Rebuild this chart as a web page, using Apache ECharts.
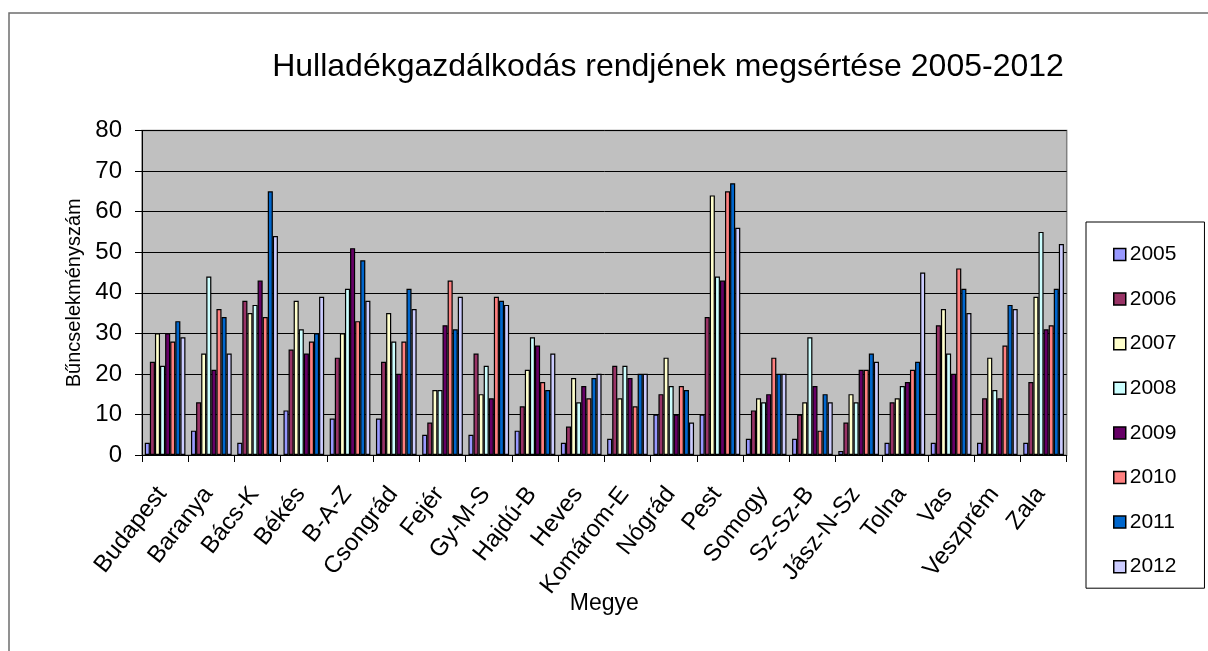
<!DOCTYPE html>
<html>
<head>
<meta charset="utf-8">
<title>Hulladékgazdálkodás rendjének megsértése 2005-2012</title>
<script src="https://cdn.jsdelivr.net/npm/echarts@6/dist/echarts.min.js"></script>
<style>
  html, body { margin: 0; padding: 0; background: #fff; }
  #chart { width: 1208px; height: 651px; }
</style>
</head>
<body>
<div id="chart"></div>
<script>
// Counties (megye)
const categories = ['Budapest', 'Baranya', 'Bács-K', 'Békés', 'B-A-Z', 'Csongrád', 'Fejér', 'Gy-M-S', 'Hajdú-B', 'Heves',
  'Komárom-E', 'Nógrád', 'Pest', 'Somogy', 'Sz-Sz-B', 'Jász-N-Sz', 'Tolna', 'Vas', 'Veszprém', 'Zala'];

// Number of offences per year and county
const y2005 = [3, 6, 3, 11, 9, 9, 5, 5, 6, 3, 4, 10, 10, 4, 4, 1, 3, 3, 3, 3];
const y2006 = [23, 13, 38, 26, 24, 23, 8, 25, 12, 7, 22, 15, 34, 11, 10, 8, 13, 32, 14, 18];
const y2007 = [30, 25, 35, 38, 30, 35, 16, 15, 21, 19, 14, 24, 64, 14, 13, 15, 14, 36, 24, 39];
const y2008 = [22, 44, 37, 31, 41, 28, 16, 22, 29, 13, 22, 17, 44, 13, 29, 13, 17, 25, 16, 55];
const y2009 = [30, 21, 43, 25, 51, 20, 32, 14, 27, 17, 19, 10, 43, 15, 17, 21, 18, 20, 14, 31];
const y2010 = [28, 36, 34, 28, 33, 28, 43, 39, 18, 14, 12, 17, 65, 24, 6, 21, 21, 46, 27, 32];
const y2011 = [33, 34, 65, 30, 48, 41, 31, 38, 16, 19, 20, 16, 67, 20, 15, 25, 23, 41, 37, 41];
const y2012 = [29, 25, 54, 39, 38, 36, 39, 37, 25, 20, 20, 8, 56, 20, 13, 23, 45, 35, 36, 52];

const years = ['2005', '2006', '2007', '2008', '2009', '2010', '2011', '2012'];
const yearValues = [y2005, y2006, y2007, y2008, y2009, y2010, y2011, y2012];
const yearColors = ['#9999FF', '#993366', '#FFFFCC', '#CCFFFF', '#660066', '#FF8080', '#0066CC', '#CCCCFF'];

const FONT = 'Liberation Sans, Arial, Helvetica, sans-serif';

const chart = echarts.init(document.getElementById('chart'), null, { renderer: 'canvas' });

const series = years.map((name, i) => ({
  name: name,
  type: 'bar',
  data: yearValues[i],
  barGap: '0%',
  barCategoryGap: '12%',
  itemStyle: { color: yearColors[i], borderColor: '#000', borderWidth: 1.2 },
  emphasis: { disabled: true }
}));

chart.setOption({
  animation: false,
  textStyle: { fontFamily: FONT, color: '#000' },
  title: {
    text: 'Hulladékgazdálkodás rendjének megsértése 2005-2012',
    left: 668,
    top: 67,
    padding: 0,
    textAlign: 'center',
    textVerticalAlign: 'middle',
    textStyle: { fontFamily: FONT, fontSize: 32, fontWeight: 'normal', color: '#000' }
  },
  graphic: [{
    type: 'rect',
    shape: { x: 9, y: 13, width: 1260, height: 700 },
    style: { fill: 'none', stroke: '#6e6e6e', lineWidth: 1.5 },
    silent: true,
    z: -10
  }],
  legend: {
    orient: 'vertical',
    left: 1086,
    top: 222,
    padding: [22, 28, 11, 27],
    itemWidth: 12,
    itemHeight: 12,
    itemGap: 23.6,
    icon: 'rect',
    borderColor: '#000',
    borderWidth: 1,
    backgroundColor: '#fff',
    selectedMode: false,
    itemStyle: { borderColor: '#000', borderWidth: 1.5 },
    textStyle: { fontFamily: FONT, fontSize: 21, lineHeight: 20, color: '#000', padding: [0, 0, 0, -1] },
    data: years
  },
  grid: {
    left: 142,
    top: 130.5,
    right: 141.3,
    bottom: 196,
    show: true,
    backgroundColor: '#C0C0C0',
    borderColor: '#808080',
    borderWidth: 1.5,
    containLabel: false
  },
  xAxis: {
    type: 'category',
    data: categories,
    name: 'Megye',
    nameLocation: 'middle',
    nameGap: 137,
    nameMoveOverlap: false,
    nameTextStyle: { fontFamily: FONT, fontSize: 23, color: '#000' },
    axisLine: { show: true, lineStyle: { color: '#000', width: 1 } },
    axisTick: { show: true, alignWithLabel: false, length: 7, lineStyle: { color: '#000' } },
    axisLabel: {
      interval: 0,
      rotate: 52,
      margin: 31,
      padding: [0, 5, 0, 0],
      fontFamily: FONT,
      fontSize: 24,
      color: '#000'
    },
    splitLine: { show: false }
  },
  yAxis: {
    type: 'value',
    min: 0,
    max: 80,
    interval: 10,
    name: 'Bűncselekményszám',
    nameLocation: 'middle',
    nameGap: 58,
    nameRotate: 90,
    nameMoveOverlap: false,
    nameTextStyle: { fontFamily: FONT, fontSize: 20, color: '#000' },
    axisLine: { show: true, lineStyle: { color: '#000', width: 1 } },
    axisTick: { show: true, length: 7, lineStyle: { color: '#000' } },
    axisLabel: { margin: 20, fontFamily: FONT, fontSize: 24, color: '#000' },
    splitLine: { show: true, lineStyle: { color: '#000', width: 1 } }
  },
  series: series
});
</script>
</body>
</html>
